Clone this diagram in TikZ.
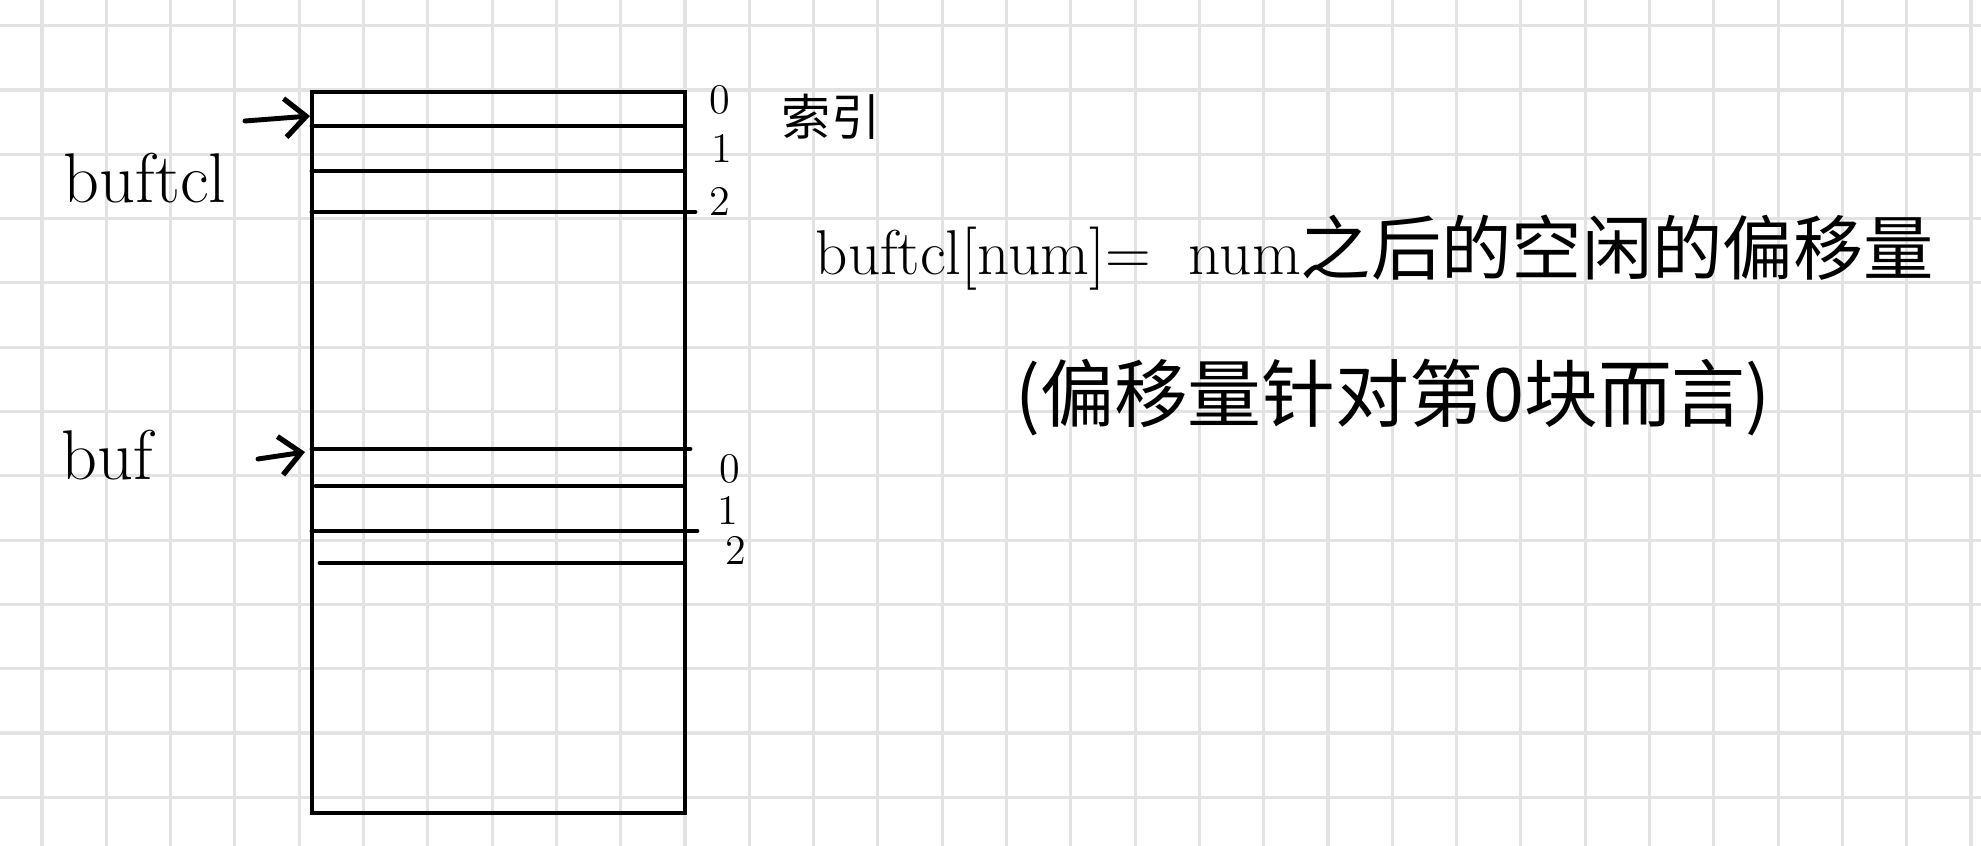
\documentclass[tikz,border=0pt]{standalone}
\usepackage{fontspec}
\newfontfamily\cjk{Noto Sans CJK SC}
\usetikzlibrary{
  positioning,
  calc,
  arrows.meta
}
\tikzset{
  >={Straight Barb[length=6pt,width=11pt,line width=1.5pt]},
  gridline/.style = {
    draw=black!11, line width=0.9pt
  },
  ink/.style = {
    draw=black, line width=1.4pt, line cap=round
  },
  hand/.style = {
    inner sep=0pt, font=\fontsize{20}{24}\selectfont
  },
  note/.style = {
    hand, font=\fontsize{18}{22}\selectfont
  },
  idx/.style = {
    inner sep=0pt, font=\fontsize{12}{13}\selectfont
  }
}

\begin{document}
\begin{tikzpicture}[x=0.01cm,y=-0.01cm]
  \useasboundingbox (0,0) rectangle (1981,846);
  \fill [white] (0,0) rectangle (1981,846);
  % squared paper
  \foreach \k in {0,...,30}
    \draw [gridline] ({42+64.3*\k},0) -- ({42+64.3*\k},846);
  \foreach \k in {0,...,12}
    \draw [gridline] (0,{25.7+64.3*\k}) -- (1981,{25.7+64.3*\k});
  % the block
  \draw [ink] (312,92) rectangle (685,813);
  \foreach \y/\xa/\xb in {126/312/683, 171/312/683, 212/312/695,
                          449/312/690, 486/316/683, 531/312/697, 563/320/683}
    \draw [ink] (\xa,\y) -- (\xb,\y);
  \path
    (145,203) node [hand, anchor=base] (ctl) {buftcl}
    (107,480) node [hand, anchor=base] (buf) {buf}
    (720,100) node [idx] (c0) {0}
    (722,148) node [idx] (c1) {1}
    (720,201) node [idx] (c2) {2}
    (730,469) node [idx] (b0) {0}
    (728,510) node [idx] (b1) {1}
    (736,550) node [idx] (b2) {2}
    (831,117) node [idx, font=\cjk\fontsize{14}{16}\selectfont] (index) {索引}
    (815,275) node [note, anchor=base west] (def)
      {buftcl[num]=\hspace{0.6em}num{\cjk\fontsize{20}{24}\selectfont 之后的空闲的偏移量}}
    (1393,398) node [hand, font=\cjk\fontsize{21}{25}\selectfont] (remark)
      {(偏移量针对第0块而言)};
  \coordinate (ctl-tail) at (245,121);
  \coordinate (ctl-head) at (310,116);
  \coordinate (buf-tail) at (258,459);
  \coordinate (buf-head) at (305,452);
  \draw [ink, ->] (ctl-tail) -- (ctl-head);
  \draw [ink, ->] (buf-tail) -- (buf-head);
\end{tikzpicture}
\end{document}
